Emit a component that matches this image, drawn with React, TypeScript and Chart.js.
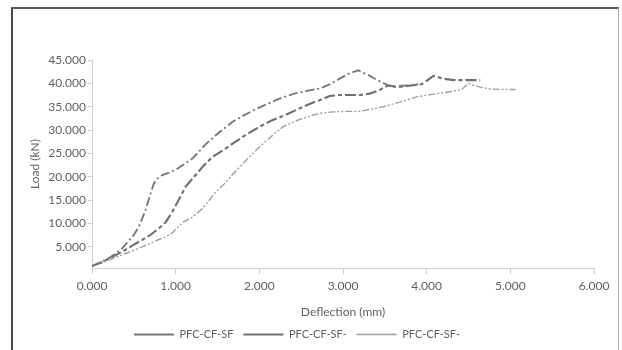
import React, { useEffect, useRef } from "react";
import { Chart, registerables } from "chart.js";

Chart.register(...registerables);

const seriesNames = ["PFC-CF-SF", "PFC-CF-SF-", "PFC-CF-SF-"];

const s1X = [0, 0.1, 0.2, 0.3, 0.36, 0.4, 0.5, 0.56, 0.64, 0.7, 0.74, 0.78, 0.84, 0.92, 1.0, 1.1, 1.2, 1.36, 1.5, 1.68, 1.82, 1.96, 2.12, 2.28, 2.44, 2.6, 2.72, 2.84, 2.96, 3.06, 3.18, 3.3, 3.42, 3.54, 3.6, 3.7, 3.8, 3.9];
const s1Y = [0.9, 1.7, 2.6, 3.8, 4.7, 5.5, 7.6, 9.3, 12.9, 16.4, 18.6, 19.6, 20.4, 20.9, 21.5, 22.7, 23.9, 27.0, 29.2, 31.8, 33.2, 34.5, 35.8, 37.0, 37.9, 38.5, 38.9, 39.8, 41.0, 42.0, 42.8, 41.8, 40.6, 39.6, 39.2, 39.5, 39.6, 39.8];

const s2X = [0, 0.1, 0.2, 0.3, 0.4, 0.5, 0.6, 0.7, 0.8, 0.88, 0.96, 1.04, 1.12, 1.2, 1.32, 1.44, 1.56, 1.68, 1.84, 2.0, 2.14, 2.28, 2.44, 2.6, 2.72, 2.84, 2.96, 3.08, 3.2, 3.32, 3.44, 3.54, 3.62, 3.72, 3.84, 3.94, 4.02, 4.08, 4.2, 4.32, 4.48, 4.64];
const s2Y = [0.9, 1.6, 2.5, 3.4, 4.4, 5.5, 6.5, 7.6, 9.0, 10.3, 12.5, 15.2, 17.9, 19.6, 22.1, 24.3, 25.6, 27.1, 29.0, 30.7, 32.0, 33.0, 34.3, 35.6, 36.4, 37.3, 37.5, 37.5, 37.5, 37.8, 38.6, 39.6, 39.3, 39.3, 39.6, 39.8, 40.8, 41.6, 41.0, 40.7, 40.7, 40.7];

const s3X = [0, 0.1, 0.2, 0.3, 0.4, 0.5, 0.6, 0.7, 0.8, 0.88, 0.96, 1.08, 1.2, 1.32, 1.4, 1.48, 1.6, 1.68, 1.84, 2.0, 2.14, 2.28, 2.44, 2.6, 2.72, 2.88, 3.04, 3.2, 3.34, 3.48, 3.68, 3.88, 4.08, 4.28, 4.42, 4.5, 4.56, 4.64, 4.76, 4.88, 5.06];
const s3Y = [0.9, 1.5, 2.2, 2.9, 3.6, 4.3, 5.0, 5.8, 6.6, 7.2, 8.0, 10.2, 11.4, 13.2, 15.0, 16.8, 18.8, 20.5, 23.5, 26.4, 28.6, 30.7, 32.0, 33.0, 33.6, 33.9, 34.0, 34.0, 34.5, 35.0, 36.0, 37.1, 37.7, 38.2, 38.7, 40.0, 39.6, 39.2, 38.8, 38.7, 38.7];

const xTicks = [0, 1, 2, 3, 4, 5, 6];
const yTicks = [5, 10, 15, 20, 25, 30, 35, 40, 45];

const toPoints = (xs: number[], ys: number[]) => xs.map((x, i) => ({ x, y: ys[i] }));

const FONT = "Lato, 'Open Sans', sans-serif";
const TEXT = "#5f5f5f";
const AXIS = "#cfcfcf";

export default function App() {
  const ref = useRef<HTMLCanvasElement | null>(null);

  useEffect(() => {
    document.body.style.margin = "0";
    document.body.style.overflow = "hidden";
    if (!ref.current) return;
    const chart = new Chart(ref.current, {
      type: "scatter",
      data: {
        datasets: [
          {
            label: seriesNames[0],
            data: toPoints(s1X, s1Y),
            showLine: true,
            borderColor: "#787878",
            backgroundColor: "#787878",
            borderWidth: 1.9,
            borderDash: [9, 3, 2, 3],
            pointRadius: 0,
            tension: 0,
          },
          {
            label: seriesNames[1],
            data: toPoints(s2X, s2Y),
            showLine: true,
            borderColor: "#707070",
            backgroundColor: "#707070",
            borderWidth: 2.1,
            borderDash: [11, 3, 4, 3],
            pointRadius: 0,
            tension: 0,
          },
          {
            label: seriesNames[2],
            data: toPoints(s3X, s3Y),
            showLine: true,
            borderColor: "#a0a0a0",
            backgroundColor: "#a0a0a0",
            borderWidth: 1.4,
            borderDash: [7, 2, 2, 2, 2, 2],
            pointRadius: 0,
            tension: 0,
          },
        ],
      },
      options: {
        animation: false,
        responsive: false,
        layout: { padding: { left: 0, right: 28, top: 60, bottom: 0 } },
        plugins: {
          tooltip: { enabled: false },
          legend: {
            position: "bottom",
            labels: {
              usePointStyle: true,
              pointStyle: "line",
              pointStyleWidth: 40,
              padding: 10,
              color: TEXT,
              font: { family: FONT, size: 11 },
            },
          },
        },
        scales: {
          x: {
            type: "linear",
            min: 0,
            max: 6,
            afterBuildTicks: (s: any) => {
              s.ticks = xTicks.map((v) => ({ value: v }));
            },
            afterFit: (s: any) => {
              s.height = 51;
            },
            border: { display: true, color: AXIS, width: 1 },
            grid: { display: true, drawOnChartArea: false, drawTicks: true, tickLength: 6, tickColor: AXIS },
            ticks: {
              padding: 5,
              color: TEXT,
              font: { family: FONT, size: 12 },
              maxRotation: 0,
              callback: (v: any) => Number(v).toFixed(3),
            },
            title: {
              display: true,
              text: "Deflection (mm)",
              color: TEXT,
              font: { family: FONT, size: 12 },
              padding: { top: 0, bottom: 0 },
            },
          },
          y: {
            type: "linear",
            min: 0.5,
            max: 45,
            afterBuildTicks: (s: any) => {
              s.ticks = yTicks.map((v) => ({ value: v }));
            },
            afterFit: (s: any) => {
              s.width = 92;
            },
            border: { display: true, color: AXIS, width: 1 },
            grid: { display: true, drawOnChartArea: false, drawTicks: true, tickLength: 4, tickColor: AXIS },
            ticks: {
              padding: 2,
              color: TEXT,
              font: { family: FONT, size: 12 },
              callback: (v: any) => Number(v).toFixed(3),
            },
            title: {
              display: true,
              text: "Load (kN)",
              color: TEXT,
              font: { family: FONT, size: 12 },
              padding: { top: 28, bottom: 0 },
            },
          },
        },
      },
    });
    return () => chart.destroy();
  }, []);

  return (
    <div style={{ position: "relative", width: 622, height: 350, overflow: "hidden", background: "#fff" }}>
      <div
        style={{
          position: "absolute",
          left: 11,
          top: 7,
          width: 608,
          height: 343,
          borderLeft: "2px solid #4a4a4a",
          borderTop: "2px solid #5a5a5a",
          borderRight: "1px solid #b0b0b0",
          boxSizing: "border-box",
        }}
      />
      <canvas ref={ref} width={622} height={350} style={{ position: "absolute", left: 0, top: 0 }} />
    </div>
  );
}
